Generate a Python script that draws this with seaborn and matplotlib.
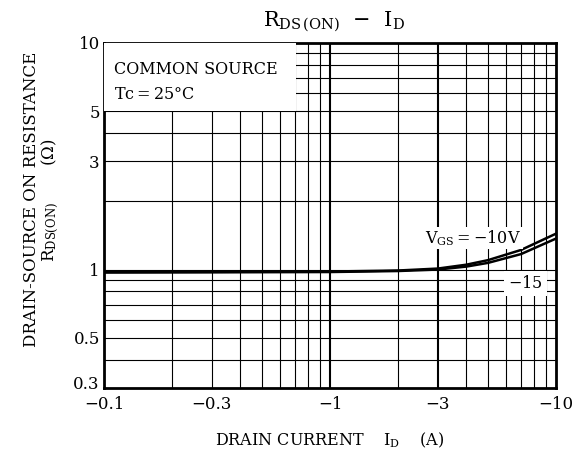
import numpy as np
import pandas as pd
import matplotlib
matplotlib.use("Agg")
import matplotlib.pyplot as plt
import matplotlib.transforms as mtransforms
from matplotlib.patches import Rectangle
from matplotlib.ticker import FixedLocator, NullFormatter
import seaborn as sns

# Valores (|ID| em A, RDS(ON) em ohm)
corrente_id = [0.1, 0.3, 1, 2, 3, 4, 5, 7, 10]
rds_vgs10 = [0.975, 0.977, 0.98, 0.99, 1.01, 1.05, 1.10, 1.22, 1.44]
rds_vgs15 = [0.97, 0.972, 0.975, 0.985, 1.00, 1.03, 1.07, 1.17, 1.37]

xticks = [0.1, 0.3, 1, 3, 10]
xtick_labels = ["\u22120.1", "\u22120.3", "\u22121", "\u22123", "\u221210"]
yticks = [0.3, 0.5, 1, 3, 5, 10]
ytick_labels = ["0.3", "0.5", "1", "3", "5", "10"]

sns.set_style("white")
plt.rcParams["font.family"] = ["DejaVu Serif"]
plt.rcParams["mathtext.fontset"] = "dejavuserif"
plt.rcParams["text.color"] = "black"

fig = plt.figure(figsize=(5.83, 4.54), dpi=100)
ax = fig.add_axes([0.1784, 0.1454, 0.9537 - 0.1784, 0.9053 - 0.1454])

df = pd.DataFrame({
    "id": corrente_id * 2,
    "rds": rds_vgs10 + rds_vgs15,
    "vgs": ["-10"] * len(corrente_id) + ["-15"] * len(corrente_id),
})
sns.lineplot(data=df, x="id", y="rds", units="vgs", estimator=None,
             color="black", linewidth=1.8, ax=ax, zorder=5)

ax.set_xscale("log")
ax.set_yscale("log")
ax.set_xlim(0.1, 10)
ax.set_ylim(0.3, 10)

# grade logarítmica
xgrid = [v * d for d in (0.1, 1) for v in range(1, 10)] + [10]
ygrid = [0.4, 0.5, 0.6, 0.7, 0.8, 0.9, 1, 2, 3, 4, 5, 6, 7, 8, 9]
for xv in xgrid:
    lw = 1.5 if xv in (1, 3) else 0.8
    ax.axvline(xv, color="black", lw=lw, zorder=1)
for yv in ygrid:
    ax.axhline(yv, color="black", lw=0.8, zorder=1)

ax.xaxis.set_major_locator(FixedLocator(xticks))
ax.set_xticklabels(xtick_labels)
ax.xaxis.set_minor_formatter(NullFormatter())
ax.yaxis.set_major_locator(FixedLocator(yticks))
ax.set_yticklabels(ytick_labels)
ax.yaxis.set_minor_formatter(NullFormatter())
ax.tick_params(axis="both", which="both", length=0, labelsize=12, colors="black")
ax.tick_params(axis="x", pad=6)
ax.tick_params(axis="y", pad=3)
for s in ax.spines.values():
    s.set_linewidth(2)
    s.set_color("black")
ax.set_xlabel("")
ax.set_ylabel("")

# sobe um pouco o rótulo 0.3 para não encostar no -0.1
sobe = mtransforms.ScaledTranslation(0, 4 / 72, fig.dpi_scale_trans)
lbl = ax.get_yticklabels()[0]
lbl.set_transform(lbl.get_transform() + sobe)

# caixa de condições (cobre a grade até a linha de 5)
ax.add_patch(Rectangle((0, 0.803), 0.424, 0.197, transform=ax.transAxes,
                       facecolor="white", edgecolor="none", zorder=3))
ax.text(0.022, 0.922, "COMMON SOURCE", transform=ax.transAxes, fontsize=11.5,
        va="center", ha="left", zorder=4)
ax.text(0.022, 0.85, "Tc$=$25\u00b0C", transform=ax.transAxes, fontsize=11.5,
        va="center", ha="left", zorder=4)

# rótulos das curvas
ax.text(4.3, 1.38, "V$_{\\mathrm{GS}}$$=$$-$10V", fontsize=11.5, ha="center", va="center",
        zorder=6, bbox=dict(facecolor="white", edgecolor="none", pad=1))
ax.text(7.3, 0.87, "$-$15", fontsize=11.5, ha="center", va="center", zorder=6,
        bbox=dict(facecolor="white", edgecolor="none", pad=3))

fig.text(0.573, 0.952, "R$_{\\mathrm{DS\\,(ON)}}$  $-$  I$_{\\mathrm{D}}$", fontsize=15,
         ha="center", va="center")
fig.text(0.054, 0.56, "DRAIN-SOURCE ON RESISTANCE", rotation=90, fontsize=12,
         ha="center", va="center")
fig.text(0.086, 0.56, "R$_{\\mathrm{DS(ON)}}$       (\u03a9)", rotation=90, fontsize=12,
         ha="center", va="center")
fig.text(0.566, 0.03, "DRAIN CURRENT    I$_{\\mathrm{D}}$    (A)", fontsize=11.5,
         ha="center", va="center")

fig.savefig("out.png", dpi=100)
